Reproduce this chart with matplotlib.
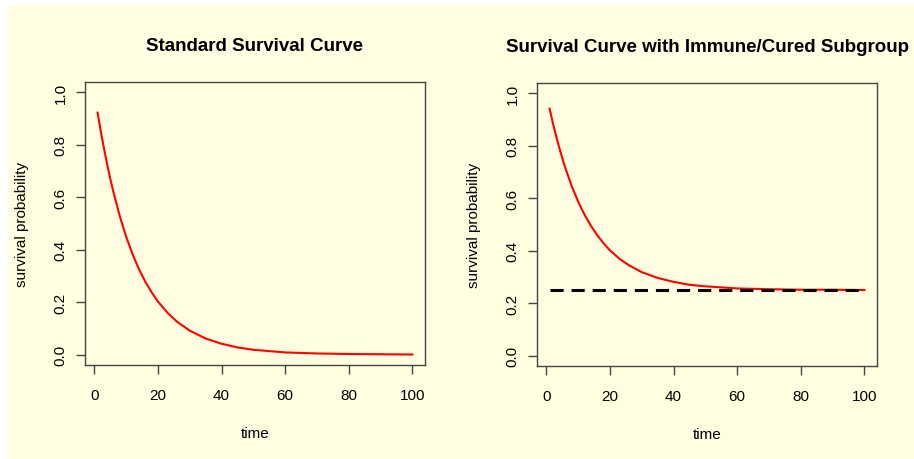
import matplotlib
matplotlib.use("Agg")
from matplotlib import pyplot as plt
from matplotlib.patches import Rectangle

plt.rcParams['font.family'] = ['Liberation Sans', 'DejaVu Sans']

# values
time = [1, 2, 3, 4, 5, 6, 8, 10, 12, 14, 16, 18, 20, 23, 26, 30, 35, 40,
        45, 50, 60, 70, 80, 90, 100]
surv_standard = [0.923, 0.852, 0.787, 0.726, 0.670, 0.619, 0.527, 0.449,
                 0.383, 0.326, 0.278, 0.237, 0.202, 0.159, 0.125, 0.091,
                 0.061, 0.041, 0.027, 0.018, 0.008, 0.004, 0.002, 0.001,
                 0.000]
surv_cured = [0.942, 0.889, 0.840, 0.795, 0.753, 0.714, 0.645, 0.587,
              0.537, 0.495, 0.459, 0.428, 0.401, 0.369, 0.344, 0.318,
              0.296, 0.281, 0.270, 0.264, 0.256, 0.253, 0.251, 0.251,
              0.250]
cured_fraction = 0.25
x_ticks = [0, 20, 40, 60, 80, 100]
y_ticks = [0.0, 0.2, 0.4, 0.6, 0.8, 1.0]

W, H = 914, 460
bg = '#FFFEE0'
fig = plt.figure(figsize=(W / 100, H / 100), dpi=100, facecolor='white')
fig.patches.append(Rectangle((8 / W, 0), 1 - 8 / W, 1 - 6 / H,
                             transform=fig.transFigure, facecolor=bg,
                             edgecolor='none', zorder=-10))


def setup(ax, title):
    ax.set_zorder(1)
    ax.set_facecolor(bg)
    ax.set_xlim(-2.96, 103.96)
    ax.set_ylim(-0.04, 1.04)
    ax.set_xticks(x_ticks)
    ax.set_yticks(y_ticks)
    ax.set_yticklabels([f'{v:.1f}' for v in y_ticks], rotation=90,
                       va='center')
    ax.tick_params(length=6.5, width=1, color='#444444', labelsize=11,
                   pad=10)
    ax.tick_params(axis='y', pad=6)
    for s in ax.spines.values():
        s.set_color('#444444')
        s.set_linewidth(1)
    ax.set_title(title, fontsize=13.5, fontweight='bold', pad=23)
    ax.set_xlabel('time', fontsize=11, labelpad=17)
    ax.set_ylabel('survival probability', fontsize=11, labelpad=18)


ax1 = fig.add_axes([85 / W, 1 - 366 / H, 340 / W, 283 / H])
setup(ax1, 'Standard Survival Curve')
ax1.plot(time, surv_standard, color='red', lw=1.5)

ax2 = fig.add_axes([537 / W, 1 - 367 / H, 340 / W, 283 / H])
setup(ax2, 'Survival Curve with Immune/Cured Subgroup')
ax2.plot(time, surv_cured, color='red', lw=1.5)
ax2.plot([time[0], time[-1]], [cured_fraction, cured_fraction],
         color='black', lw=2.2, dashes=(4.3, 2.6))

fig.savefig('out.png', dpi=100, facecolor='white')
